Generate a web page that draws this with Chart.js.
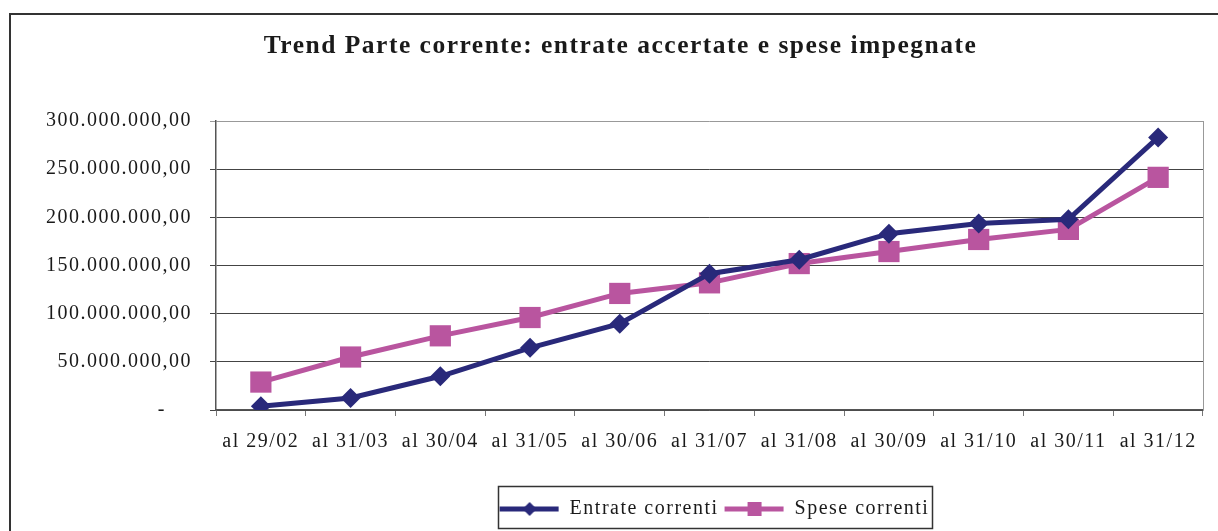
<!DOCTYPE html>
<html>
<head>
<meta charset="utf-8">
<script src="https://cdn.jsdelivr.net/npm/chart.js@4/dist/chart.umd.min.js"></script>
<style>
  html, body { margin: 0; padding: 0; background: #fff; }
  canvas { display: block; }
</style>
</head>
<body>
<canvas id="trend" width="1218" height="531"></canvas>
<script>
var categories = ['al 29/02', 'al 31/03', 'al 30/04', 'al 31/05', 'al 30/06', 'al 31/07',
                  'al 31/08', 'al 30/09', 'al 31/10', 'al 30/11', 'al 31/12'];
var entrateCorrenti = [4000000, 12500000, 35000000, 64500000, 89500000, 141500000,
                       156000000, 183000000, 193500000, 198000000, 283000000];
var speseCorrenti = [29000000, 55000000, 77000000, 96000000, 121000000, 132000000,
                     152000000, 164500000, 177000000, 187500000, 241500000];
var seriesNames = ['Entrate correnti', 'Spese correnti'];
var yTicks = { min: 0, max: 300000000, step: 50000000 };

var NAVY = '#29297a';
var PINK = '#b9559f';
var TEXT = '#1a1a1a';
var SERIF = '"Liberation Serif", "Times New Roman", serif';

// euro style number: 300.000.000,00 ; zero shown as a dash (accounting format)
function formatEuro(v) {
    if (v === 0) return '-    ';
    var s = Math.round(v).toString().replace(/\B(?=(\d{3})+(?!\d))/g, '.');
    return s + ',00';
}

// little line+marker pictures for the legend
function legendSymbol(color, shape) {
    var c = document.createElement('canvas');
    c.width = 70; c.height = 22;
    var g = c.getContext('2d');
    g.strokeStyle = color;
    g.lineWidth = 5;
    g.beginPath(); g.moveTo(5, 11); g.lineTo(64, 11); g.stroke();
    g.fillStyle = color;
    if (shape === 'diamond') {
        g.beginPath();
        g.moveTo(35, 4); g.lineTo(42, 11); g.lineTo(35, 18); g.lineTo(28, 11);
        g.closePath(); g.fill();
    } else {
        g.fillRect(28, 4, 14, 14);
    }
    return c;
}

var frame = {
    id: 'frame',
    beforeLayout: function(chart) { chart.ctx.letterSpacing = '1.5px'; },
    afterLayout: function(chart) {
        // title and legend sit right of centre in the original
        chart.titleBlock.left += 18;
        chart.titleBlock.right += 18;
        chart.legend.left += 112;
        chart.legend.right += 112;
    },
    beforeDraw: function(chart) {
        var ctx = chart.ctx;
        ctx.letterSpacing = '1.5px';
        ctx.save();
        ctx.fillStyle = '#fff';
        ctx.fillRect(0, 0, chart.width, chart.height);
        ctx.strokeStyle = '#333';
        ctx.lineWidth = 2;
        ctx.strokeRect(10, 14, chart.width + 20, chart.height + 20);
        ctx.restore();
    },
    afterDraw: function(chart) {
        var ctx = chart.ctx, a = chart.chartArea;
        ctx.save();
        ctx.strokeStyle = '#999';
        ctx.lineWidth = 1;
        ctx.beginPath();
        ctx.moveTo(a.right + 0.5, a.top);
        ctx.lineTo(a.right + 0.5, a.bottom);
        ctx.stroke();
        var boxes = chart.legend.legendHitBoxes;
        if (boxes && boxes.length) {
            var first = boxes[0], last = boxes[boxes.length - 1];
            var l = first.left - 2, r = last.left + last.width + 2;
            var t = first.top - 13, b = first.top + first.height + 9;
            ctx.strokeStyle = '#333';
            ctx.lineWidth = 1.5;
            ctx.strokeRect(Math.round(l) + 0.5, Math.round(t) + 0.5, Math.round(r - l), Math.round(b - t));
        }
        ctx.restore();
    }
};

var ctx = document.getElementById('trend').getContext('2d');
new Chart(ctx, {
    type: 'line',
    data: {
        labels: categories,
        datasets: [{
            label: seriesNames[0],
            data: entrateCorrenti,
            borderColor: NAVY,
            backgroundColor: NAVY,
            borderWidth: 5,
            pointStyle: 'rectRot',
            pointRadius: 10,
            pointBorderWidth: 0,
            pointBackgroundColor: NAVY,
            tension: 0
        }, {
            label: seriesNames[1],
            data: speseCorrenti,
            borderColor: PINK,
            backgroundColor: PINK,
            borderWidth: 5,
            pointStyle: 'rect',
            pointRadius: 15,
            pointBorderWidth: 0,
            pointBackgroundColor: PINK,
            tension: 0
        }]
    },
    options: {
        responsive: false,
        animation: false,
        layout: { padding: { top: 14, left: 0, right: 13, bottom: 2 } },
        plugins: {
            title: {
                display: true,
                text: 'Trend Parte corrente: entrate accertate e spese impegnate',
                color: TEXT,
                font: { family: SERIF, size: 25.5, weight: 'bold' },
                padding: { top: 17, bottom: 59.4 }
            },
            legend: {
                position: 'bottom',
                labels: {
                    color: TEXT,
                    font: { family: SERIF, size: 20 },
                    usePointStyle: true,
                    pointStyleWidth: 60,
                    padding: 6,
                    generateLabels: function(chart) {
                        return [
                            { text: seriesNames[0], pointStyle: legendSymbol(NAVY, 'diamond'), datasetIndex: 0, fontColor: TEXT, lineWidth: 0 },
                            { text: seriesNames[1], pointStyle: legendSymbol(PINK, 'square'), datasetIndex: 1, fontColor: TEXT, lineWidth: 0 }
                        ];
                    }
                }
            },
            tooltip: { enabled: false }
        },
        scales: {
            x: {
                offset: true,
                afterFit: function(scale) { scale.height = 83; },
                grid: {
                    offset: true,
                    drawOnChartArea: false,
                    drawTicks: true,
                    tickLength: 6,
                    color: '#777'
                },
                border: { display: true, color: '#555', width: 1.5 },
                ticks: {
                    color: TEXT,
                    font: { family: SERIF, size: 20 },
                    padding: 14,
                    maxRotation: 0,
                    autoSkip: false
                }
            },
            y: {
                min: yTicks.min,
                max: yTicks.max,
                afterFit: function(scale) { scale.width = 216; },
                grid: {
                    color: function(c) { return c.tick && c.tick.value === yTicks.max ? '#999' : '#444'; },
                    lineWidth: 1,
                    tickLength: 6,
                    drawTicks: true
                },
                border: { display: true, color: '#555', width: 1.5 },
                ticks: {
                    stepSize: yTicks.step,
                    color: TEXT,
                    font: { family: SERIF, size: 20 },
                    padding: 18,
                    callback: function(v) { return formatEuro(v); }
                }
            }
        }
    },
    plugins: [frame]
});
</script>
</body>
</html>
